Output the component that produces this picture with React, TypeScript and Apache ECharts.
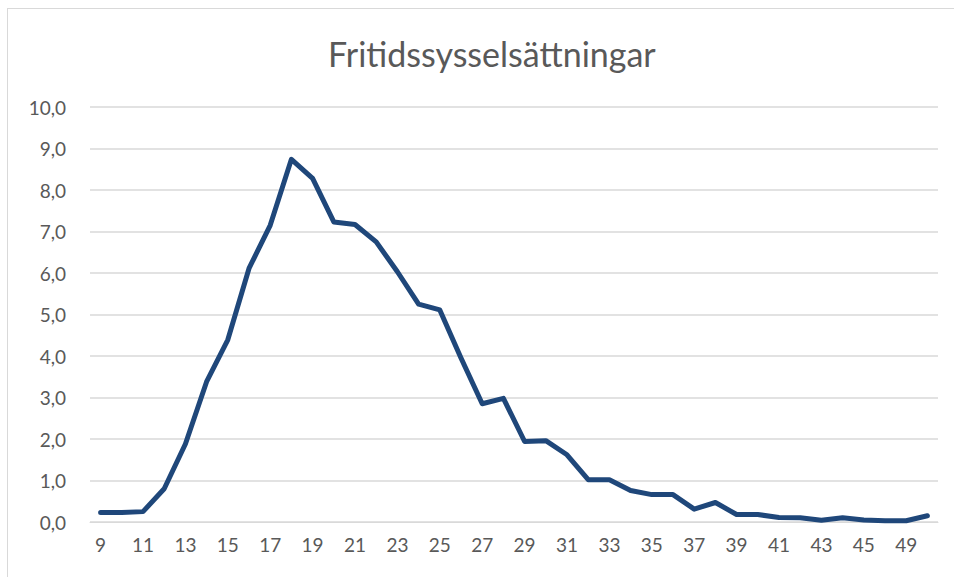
import React, { useEffect, useRef } from "react";
import * as echarts from "echarts";

const title = "Fritidssysselsättningar";
const ages = [
  "9", "10", "11", "12", "13", "14", "15", "16", "17", "18",
  "19", "20", "21", "22", "23", "24", "25", "26", "27", "28",
  "29", "30", "31", "32", "33", "34", "35", "36", "37", "38",
  "39", "40", "41", "42", "43", "44", "45", "46", "49", "50",
];
const values = [
  0.23, 0.23, 0.25, 0.8, 1.88, 3.38, 4.39, 6.11, 7.15, 8.74,
  8.28, 7.23, 7.17, 6.75, 6.03, 5.25, 5.11, 3.95, 2.85, 2.98,
  1.94, 1.96, 1.62, 1.02, 1.02, 0.76, 0.66, 0.66, 0.31, 0.47,
  0.18, 0.18, 0.11, 0.1, 0.04, 0.1, 0.05, 0.03, 0.03, 0.15,
];
const yMin = 0;
const yMax = 10;
const yStep = 1;

export default function App() {
  const ref = useRef<HTMLDivElement>(null);
  useEffect(() => {
    document.body.style.margin = "0";
    document.body.style.overflow = "hidden";
    const chart = echarts.init(ref.current!, null, { renderer: "svg" });
    const font = "Lato, 'Open Sans', sans-serif";
    chart.setOption({
      animation: false,
      backgroundColor: "#ffffff",
      title: {
        text: title,
        left: 323,
        top: 31,
        textStyle: { color: "#595959", fontSize: 34, fontWeight: "normal", fontFamily: font },
      },
      grid: { left: 90, right: 16, top: 107, bottom: 55 },
      xAxis: {
        type: "category",
        data: ages,
        boundaryGap: true,
        axisLine: { lineStyle: { color: "#d9d9d9", width: 1 } },
        axisTick: { show: false },
        axisLabel: { interval: 1, color: "#595959", fontSize: 19, fontFamily: font, margin: 13 },
      },
      yAxis: {
        type: "value",
        min: yMin,
        max: yMax,
        interval: yStep,
        axisLine: { show: false },
        axisTick: { show: false },
        splitLine: { lineStyle: { color: "#d9d9d9", width: 1.5 } },
        axisLabel: {
          color: "#595959",
          fontSize: 19,
          fontFamily: font,
          margin: 24,
          formatter: (v: number) => v.toFixed(1).replace(".", ","),
        },
      },
      graphic: [
        { type: "line", shape: { x1: 7, y1: 8.5, x2: 954, y2: 8.5 }, style: { stroke: "#d9d9d9", lineWidth: 1 } },
        { type: "line", shape: { x1: 7.5, y1: 8, x2: 7.5, y2: 577 }, style: { stroke: "#d9d9d9", lineWidth: 1 } },
      ],
      series: [
        {
          type: "line",
          data: values,
          symbol: "none",
          smooth: false,
          lineStyle: { color: "#1f477a", width: 5, cap: "round", join: "round" },
        },
      ],
    });
    return () => chart.dispose();
  }, []);
  return <div ref={ref} style={{ position: "fixed", left: 0, top: 0, width: 954, height: 577 }} />;
}
